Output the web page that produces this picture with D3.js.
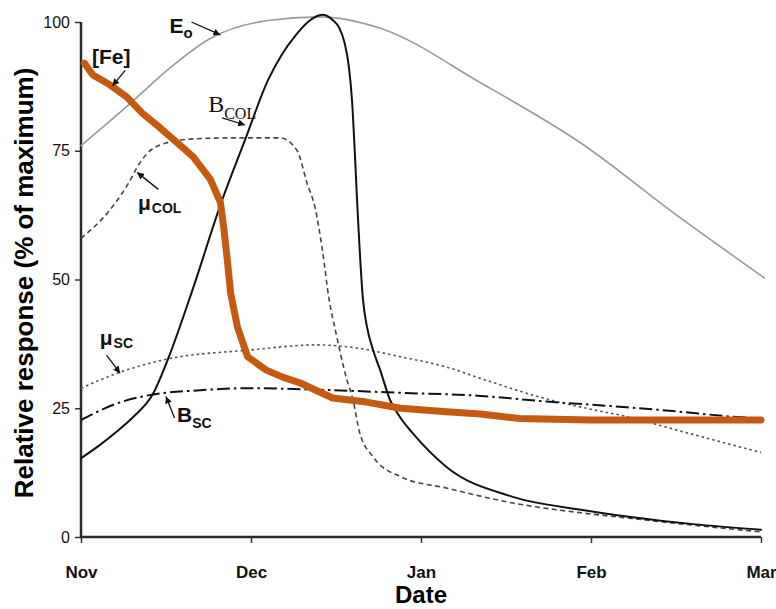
<!DOCTYPE html>
<html>
<head>
<meta charset="utf-8">
<script src="https://cdn.jsdelivr.net/npm/d3@7"></script>
<style>
  body { margin: 0; background: #fff; }
  svg { font-family: "Liberation Sans", Arial, sans-serif; }
</style>
</head>
<body>
<div id="chart"></div>
<script>
// month index: 0 = Nov, 4 = Mar
var months = ["Nov", "Dec", "Jan", "Feb", "Mar"];
var yTicks = [0, 25, 50, 75, 100];

// [month, % of max]
var eo = [[0,76],[0.3,84.5],[0.52,91],[0.76,96.8],[1.1,100.3],[1.4,101],[1.76,98.8],
          [2.35,88.2],[2.94,76.5],[3.52,62.1],[4.02,50.3]];
var bcol = [[0,15.3],[0.1,17.6],[0.2,20.2],[0.31,23.4],[0.42,27.6],[0.51,34.4],[0.65,47.4],
            [0.83,65.4],[0.965,77.1],[1.1,88.7],[1.18,93.6],[1.26,97.3],[1.335,100],[1.42,101.4],
            [1.48,100.4],[1.52,98.8],[1.55,96],[1.575,91.5],[1.594,84.9],[1.61,75.1],[1.624,65.4],
            [1.659,46],[1.68,41.2],[1.718,36.3],[1.76,32.4],[1.818,26.6],[1.876,23.3],[1.95,20.2],
            [2.15,13.6],[2.54,7.8],[2.94,5.3],[3.21,4],[3.6,2.5],[4.0,1.4]];
var mucol = [[0,58],[0.17,63.5],[0.29,69.3],[0.33,71.8],[0.39,74.5],[0.5,76.5],[0.66,77.3],
             [0.9,77.5],[1.17,77.5],[1.27,75.1],[1.33,68.7],[1.38,63.5],[1.42,55.7],[1.46,46],
             [1.5,39.6],[1.56,31],[1.6,26.6],[1.64,20.2],[1.72,15.5],[1.88,11.7],[2.15,9.5],
             [2.54,6.6],[2.94,4.7],[3.21,3.7],[3.6,2.3],[4.0,1.0]];
var musc = [[0,28.9],[0.23,32],[0.5,34.5],[0.99,36.3],[1.39,37.3],[1.6,36.8],[1.88,35],
            [2.15,33],[2.35,30.8],[2.74,26.8],[3.0,24.8],[3.21,23.4],[3.5,20.8],[4.0,16.4]];
var bsc = [[0,22.7],[0.2,25.8],[0.41,27.6],[0.7,28.5],[0.99,28.9],[1.39,28.6],[1.88,28],
           [2.35,27.4],[2.74,26.3],[3.21,25.2],[3.5,24.4],[3.82,23.4],[4.0,23]];
var fe = [[0.02,92],[0.07,89.7],[0.17,87.8],[0.27,85.4],[0.36,82.3],[0.46,79.6],[0.56,76.7],
          [0.66,73.8],[0.76,69.5],[0.82,65],[0.84,60],[0.86,54],[0.88,47.4],[0.92,40.8],
          [0.98,35],[1.09,32.4],[1.19,31],[1.29,29.9],[1.48,27],[1.68,26.2],[1.88,25],
          [2.15,24.3],[2.35,23.9],[2.58,23],[3.0,22.7],[4.0,22.7]];

let width = 776, height = 609;
let svg = d3.select("#chart").append("svg")
            .attr("width", width).attr("height", height);

let x = d3.scaleLinear().domain([0, 4]).range([81, 761]);
let y = d3.scaleLinear().domain([0, 100]).range([537, 22]);

svg.append("defs").append("marker")
   .attr("id", "arr")
   .attr("viewBox", "0 0 10 10")
   .attr("refX", 10).attr("refY", 5)
   .attr("markerWidth", 7).attr("markerHeight", 7)
   .attr("markerUnits", "userSpaceOnUse")
   .attr("orient", "auto")
   .append("path").attr("d", "M0,0 L10,5 L0,10 z").attr("fill", "#111");

// axes
let yAxis = svg.append("g").attr("transform", "translate(81,0)")
  .call(d3.axisLeft(y).tickValues(yTicks).tickSize(6).tickSizeOuter(0).tickPadding(5));
let xAxis = svg.append("g").attr("transform", "translate(0,537)")
  .call(d3.axisBottom(x).tickValues([0,1,2,3,4]).tickFormat(i => months[i])
        .tickSize(6).tickSizeOuter(0).tickPadding(23));
[yAxis, xAxis].forEach(function(a) {
  a.select(".domain").remove();
  a.selectAll(".tick line").attr("stroke", "#333").attr("stroke-width", 1.5);
  a.selectAll("text").attr("fill", "#111");
});
yAxis.selectAll("text").style("font-size", "16px");
xAxis.selectAll("text").style("font-size", "17px").style("font-weight", "bold");

// axis lines drawn from the scales' ranges
svg.append("path")
   .attr("d", "M" + x(0) + "," + y(100) + "V" + (y(0) + 1) + "M" + (x(0) - 1) + "," + y(0) + "H" + x(4))
   .attr("fill", "none").attr("stroke", "#2a2a2a").attr("stroke-width", 2.5);

svg.append("text")
   .attr("transform", "translate(33,283) rotate(-90)")
   .attr("text-anchor", "middle")
   .style("font-size", "26px").style("font-weight", "bold")
   .text("Relative response (% of maximum)");
svg.append("text")
   .attr("x", 421).attr("y", 603)
   .attr("text-anchor", "middle")
   .style("font-size", "24px").style("font-weight", "bold")
   .text("Date");

let smooth = d3.line().x(d => x(d[0])).y(d => y(d[1])).curve(d3.curveMonotoneX);
let rough = d3.line().x(d => x(d[0])).y(d => y(d[1]));

function addLine(data, gen, color, w, dash) {
  svg.append("path").datum(data)
     .attr("fill", "none").attr("stroke", color)
     .attr("stroke-width", w)
     .attr("stroke-dasharray", dash || null)
     .attr("stroke-linejoin", "round").attr("stroke-linecap", dash ? "butt" : "round")
     .attr("d", gen);
}
addLine(eo, smooth, "#9a9a9a", 1.6);
addLine(musc, smooth, "#555", 1.6, "2.5,3");
addLine(bsc, smooth, "#111", 2, "13,4,2.5,4");
addLine(mucol, smooth, "#444", 1.6, "5,3.5");
addLine(bcol, smooth, "#111", 2);
addLine(fe, rough, "#c65a13", 7);

// labels with arrows
function arrow(x1, y1, x2, y2) {
  svg.append("line")
     .attr("x1", x(x1)).attr("y1", y(y1)).attr("x2", x(x2)).attr("y2", y(y2))
     .attr("stroke", "#111").attr("stroke-width", 1.3)
     .attr("marker-end", "url(#arr)");
}
function label(mx, my, main, sub, opts) {
  let t = svg.append("text").attr("x", x(mx)).attr("y", y(my))
     .style("font-family", opts.serif ? "'Liberation Serif', 'Times New Roman', serif" : null)
     .style("font-weight", opts.serif ? "normal" : "bold")
     .attr("fill", "#111");
  t.append("tspan").style("font-size", opts.size + "px").text(main);
  if (sub) t.append("tspan").attr("dy", opts.dy).attr("dx", opts.dx || 0)
            .style("font-size", opts.subSize + "px").text(sub);
}

label(0.52, 97.9, "E", "o", {size: 21, subSize: 15, dy: 5});
arrow(0.65, 100, 0.82, 97.5);

label(0.065, 91.8, "[Fe]", null, {size: 21});
arrow(0.26, 90.6, 0.185, 87.6);

label(0.748, 82.5, "B", "COL", {size: 24, subSize: 16, dy: 7, serif: true});
arrow(0.83, 81.4, 0.965, 80);

label(0.335, 63.5, "\u03bc", "COL", {size: 21, subSize: 14, dy: 3, dx: 1});
arrow(0.455, 67.5, 0.33, 70.8);

label(0.11, 37.2, "\u03bc", "SC", {size: 21, subSize: 14, dy: 3, dx: 1});
arrow(0.15, 35.3, 0.23, 31.8);

label(0.565, 22.3, "B", "SC", {size: 21, subSize: 14, dy: 6});
arrow(0.55, 23.1, 0.5, 27.3);
</script>
</body>
</html>
